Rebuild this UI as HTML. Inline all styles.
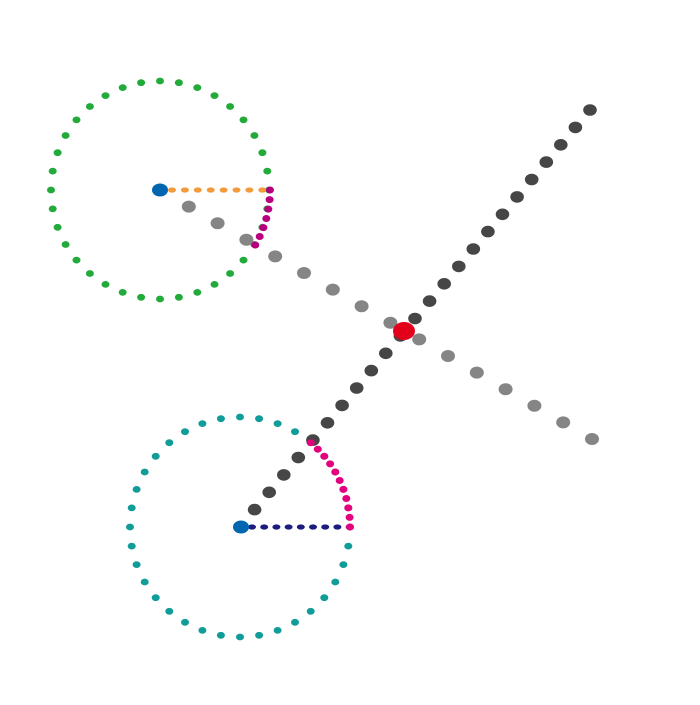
<!DOCTYPE html>
<html><head><meta charset="utf-8"><style>html,body{margin:0;padding:0;background:#fff}</style></head>
<body>
<svg id="s" width="700" height="700" xmlns="http://www.w3.org/2000/svg"></svg>
<script>
const s=document.getElementById('s');let h='';
function e(x,y,rx,ry,c){h+=`<ellipse cx="${x.toFixed(1)}" cy="${y.toFixed(1)}" rx="${rx}" ry="${ry}" fill="${c}"/>`;}
for(let i=0;i<36;i++){const a=i*Math.PI/18;e(160+109*Math.cos(a),190+109*Math.sin(a),4,3.4,'#22aa3a');}
for(let i=0;i<36;i++){const a=i*Math.PI/18;e(240+110*Math.cos(a),527+110*Math.sin(a),4,3.4,'#109c98');}
for(let k=1;k<=15;k++){e(160+432*k/15,190+249*k/15,7,6,'#858585');}
for(let k=1;k<=24;k++){e(240+350*k/24,527-417*k/24,6.8,5.8,'#464646');}
for(let k=0;k<8;k++){e(172+k*12.9,190,4,2.6,'#f39a3a');}
for(let k=0;k<9;k++){e(252+k*12.2,527,4,2.6,'#1c1c80');}
for(let k=0;k<7;k++){const a=k*5*Math.PI/180;e(160+110*Math.cos(a),190+110*Math.sin(a),4,3.5,'#b8007e');}
for(let k=0;k<=10;k++){const a=k*5*Math.PI/180;e(240+110*Math.cos(a),527-110*Math.sin(a),4,3.5,'#e5007e');}
e(160,190,8,6.5,'#0066b0');e(241,527,8,6.5,'#0066b0');
e(404,331,11,9,'#e3001b');
s.innerHTML=h;
</script>
</body></html>
